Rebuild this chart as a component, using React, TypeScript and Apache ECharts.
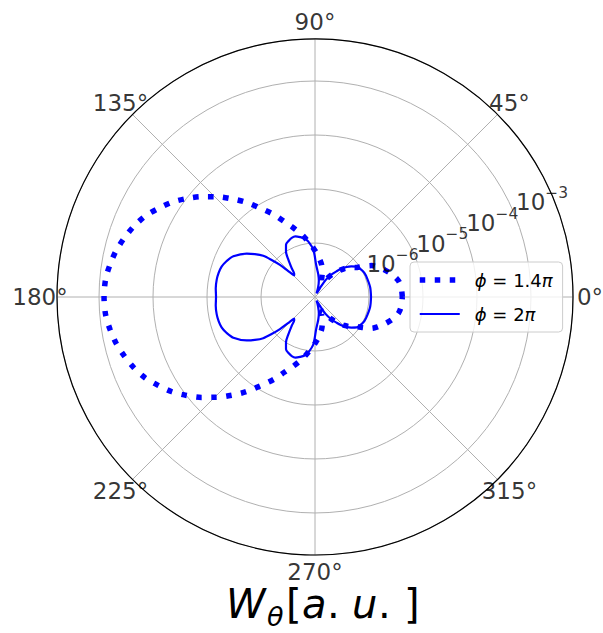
import React, { useEffect, useRef } from 'react';
import * as echarts from 'echarts';

// phi = 1.4 pi (dotted): angle in degrees, W in a.u.
const dottedAngles = [
  0, 6, 11, 16, 21, 25, 29, 33, 36, 40, 44, 48, 53, 58, 63, 68, 73, 78, 83, 88,
  92, 96, 100, 104, 108, 112, 116.5, 121.5, 126, 130, 134.5, 138.5, 142.5, 146.5, 150.5, 154.5,
  159, 163, 167, 171, 175, 180,
  185, 189, 193, 197, 201, 205.5, 209.5, 213.5, 217.5, 221.5, 225.5, 230, 234, 238.5, 243.5,
  248, 252, 256, 260, 264, 268, 272, 277, 282, 287, 292, 297, 302, 307, 312, 316, 320, 324,
  327, 331, 335, 339, 344, 349, 354, 360,
];
const dottedValues = [
  4.14e-6, 4.04e-6, 3.75e-6, 3.1e-6, 2.44e-6, 1.98e-6, 1.58e-6, 1.09e-6, 8.43e-7, 7.11e-7,
  5.74e-7, 4.45e-7, 3.3e-7, 2.45e-7, 1.98e-7, 2.07e-7, 2.9e-7, 4.0e-7, 5.06e-7, 6.53e-7,
  8.07e-7, 1.01e-6, 1.32e-6, 1.73e-6, 2.3e-6, 3.16e-6, 5.04e-6, 8.4e-6, 1.47e-5, 2.34e-5,
  4.02e-5, 6.39e-5, 9.9e-5, 1.51e-4, 2.14e-4, 3.04e-4, 4.06e-4, 5.03e-4, 6.07e-4, 6.96e-4,
  7.78e-4, 8.07e-4,
  7.78e-4, 6.96e-4, 6.07e-4, 5.03e-4, 4.06e-4, 3.04e-4, 2.14e-4, 1.51e-4, 9.9e-5, 6.39e-5,
  4.02e-5, 2.34e-5, 1.47e-5, 8.4e-6, 5.04e-6, 3.16e-6, 2.3e-6, 1.73e-6, 1.32e-6, 1.01e-6,
  8.07e-7, 6.53e-7, 5.06e-7, 4.0e-7, 2.9e-7, 2.07e-7, 1.98e-7, 2.45e-7, 3.3e-7, 4.45e-7,
  5.74e-7, 7.11e-7, 8.43e-7, 1.09e-6, 1.58e-6, 1.98e-6, 2.44e-6, 3.1e-6, 3.75e-6, 4.04e-6,
  4.14e-6,
];

// phi = 2 pi (solid)
const solidAngles = [
  0, 10, 20, 26, 31, 36, 40, 43.5, 47, 50, 54, 58, 61, 64, 67, 72, 77, 81.5, 85, 88,
  92, 97, 100, 104, 108, 111.5, 115, 119, 122.5, 125.5, 129, 132, 134, 136, 137.5, 139.5,
  141.5, 144.5, 147.5, 153.5, 158, 162, 166, 170, 175, 180,
  185, 190, 194, 198, 202, 206.5, 212.5, 215.5, 218.5, 220.5, 222.5, 224, 226, 228, 231,
  234.5, 237.5, 241, 245, 248.5, 252, 256, 260, 263, 268, 272, 275, 278.5, 283, 288, 293,
  296, 299, 302, 306, 310, 313, 316.5, 320, 324, 329, 334, 340, 350, 360,
];
const solidValues = [
  1.09e-6, 1.09e-6, 1.06e-6, 1.04e-6, 9.8e-7, 9.05e-7, 7.58e-7, 6.42e-7, 5.16e-7, 4.19e-7,
  3.23e-7, 2.34e-7, 1.53e-7, 1.24e-7, 1.19e-7, 1.53e-7, 2.07e-7, 2.61e-7, 3.16e-7, 3.96e-7,
  7.51e-7, 1.09e-6, 1.26e-6, 1.39e-6, 1.51e-6, 1.5e-6, 1.41e-6, 1.28e-6, 1.0e-6, 7.08e-7,
  4.84e-7, 3.75e-7, 3.59e-7, 5.06e-7, 7.6e-7, 1.14e-6, 1.68e-6, 2.34e-6, 3.15e-6, 4.89e-6,
  5.87e-6, 6.59e-6, 6.91e-6, 7.05e-6, 7.0e-6, 6.81e-6,
  7.0e-6, 7.05e-6, 6.91e-6, 6.59e-6, 5.87e-6, 4.89e-6, 3.15e-6, 2.34e-6, 1.68e-6, 1.14e-6,
  7.6e-7, 5.06e-7, 3.59e-7, 3.75e-7, 4.84e-7, 7.08e-7, 1.0e-6, 1.28e-6, 1.41e-6, 1.5e-6,
  1.51e-6, 1.39e-6, 1.26e-6, 1.09e-6, 7.51e-7, 3.96e-7, 3.16e-7, 2.61e-7, 2.07e-7, 1.53e-7,
  1.19e-7, 1.24e-7, 1.53e-7, 2.34e-7, 3.23e-7, 4.19e-7, 5.16e-7, 6.42e-7, 7.58e-7, 9.05e-7,
  9.8e-7, 1.04e-6, 1.06e-6, 1.09e-6, 1.09e-6,
];

const seriesNames = ['ϕ = 1.4π', 'ϕ = 2π'];
const legendRich = ['{i|ϕ}{n| = 1.4}{i|π}', '{i|ϕ}{n| = 2}{i|π}'];

const radiusMin = 1e-7;
const radiusMax = 6e-3;
const radialTickValues = [1e-6, 1e-5, 1e-4, 1e-3];
const radialTickExponents = ['−6', '−5', '−4', '−3'];
const radialLabelAngle = 22.5;

const angleTicks = [0, 45, 90, 135, 180, 225, 270, 315];
const angleTickLabels = ['0°', '45°', '90°', '135°', '180°', '225°', '270°', '315°'];
const angleLabelRadius = 1.238e-2;

// axis title pieces: [text, italic, x offset, y offset, size]
const titlePieces: [string, boolean, number, number, number][] = [
  ['W', true, 0, 0, 40],
  ['θ', true, 41, 19, 27],
  ['[', false, 60, 0, 40],
  ['a', true, 76, 0, 40],
  ['.', false, 101, 0, 40],
  ['u', true, 126, 0, 40],
  ['.', false, 152, 0, 40],
  [']', false, 178, 0, 40],
];

export default function App() {
  const ref = useRef<HTMLDivElement>(null);
  useEffect(() => {
    const chart = echarts.init(ref.current!, null, { renderer: 'svg' });
    const font = 'DejaVu Sans';
    const blue = '#0000ff';
    const dottedLine = { color: blue, width: 5.5, type: [5.5, 9.5], cap: 'butt' };
    const solidLine = { color: blue, width: 2.2, type: 'solid' };
    const hiddenSymbol = { opacity: 0, color: 'rgba(0,0,0,0)', borderWidth: 0 };
    chart.setOption({
      animation: false,
      backgroundColor: '#ffffff',
      textStyle: { fontFamily: font },
      polar: { center: [315, 297], radius: 258 },
      angleAxis: {
        type: 'value',
        min: 0,
        max: 360,
        interval: 45,
        startAngle: 0,
        clockwise: false,
        axisLine: { show: true, lineStyle: { color: '#000000', width: 1.2 } },
        axisTick: { show: false },
        axisLabel: { show: false },
        splitLine: { show: true, lineStyle: { color: '#b0b0b0', width: 1 } },
      },
      radiusAxis: {
        type: 'log',
        logBase: 10,
        min: radiusMin,
        max: radiusMax,
        axisLine: { show: false },
        axisTick: { show: false },
        axisLabel: { show: false },
        splitLine: { show: true, lineStyle: { color: '#b0b0b0', width: 1 } },
      },
      legend: {
        data: [
          { name: seriesNames[0], itemStyle: hiddenSymbol, lineStyle: dottedLine },
          { name: seriesNames[1], itemStyle: hiddenSymbol, lineStyle: solidLine },
        ],
        orient: 'vertical',
        left: 410,
        top: 262,
        padding: [9, 10, 9, 7],
        itemGap: 16,
        itemWidth: 40,
        itemHeight: 14,
        backgroundColor: 'rgba(255,255,255,0.8)',
        borderColor: '#cccccc',
        borderWidth: 1,
        borderRadius: 4,
        selectedMode: false,
        formatter: (name: string) => legendRich[seriesNames.indexOf(name)],
        textStyle: {
          fontSize: 18,
          fontFamily: font,
          color: '#000',
          padding: [0, 0, 0, 10],
          rich: {
            i: { fontStyle: 'italic', fontSize: 18, fontFamily: font, color: '#000' },
            n: { fontSize: 18, fontFamily: font, color: '#000' },
          },
        },
      },
      graphic: [
        {
          type: 'group',
          left: 226,
          top: 584,
          children: titlePieces.map(([t, it, x, y, s]) => ({
            type: 'text',
            x,
            y,
            style: {
              text: t,
              fontSize: s,
              fontStyle: it ? 'italic' : 'normal',
              fontFamily: font,
              fill: '#000',
            },
          })),
        },
      ],
      series: [
        {
          name: seriesNames[1],
          type: 'line',
          coordinateSystem: 'polar',
          data: solidAngles.map((a, i) => [solidValues[i], a]),
          symbol: 'none',
          smooth: 0.3,
          lineStyle: solidLine,
          itemStyle: { color: blue },
          z: 3,
        },
        {
          name: seriesNames[0],
          type: 'line',
          coordinateSystem: 'polar',
          data: dottedAngles.map((a, i) => [dottedValues[i], a]),
          symbol: 'none',
          smooth: 0.3,
          lineStyle: dottedLine,
          itemStyle: { color: blue },
          z: 4,
        },
        {
          type: 'scatter',
          coordinateSystem: 'polar',
          clip: false,
          silent: true,
          symbolSize: 1,
          itemStyle: { color: 'rgba(0,0,0,0)' },
          data: radialTickValues.map((v, i) => ({
            value: [v, radialLabelAngle],
            label: { formatter: '{b|10}{s|' + radialTickExponents[i] + '}' },
          })),
          label: {
            show: true,
            position: [2, 0],
            align: 'left',
            verticalAlign: 'bottom',
            rich: {
              b: { fontSize: 23, lineHeight: 29, verticalAlign: 'bottom', fontFamily: font, color: '#000' },
              s: { fontSize: 15.5, lineHeight: 15, verticalAlign: 'top', fontFamily: font, color: '#000' },
            },
          },
          z: 6,
        },
        {
          type: 'scatter',
          coordinateSystem: 'polar',
          clip: false,
          silent: true,
          symbolSize: 1,
          itemStyle: { color: 'rgba(0,0,0,0)' },
          data: angleTicks.map((a, i) => ({
            value: [angleLabelRadius, a],
            label: { formatter: angleTickLabels[i] },
          })),
          label: {
            show: true,
            position: 'inside',
            fontSize: 23,
            fontFamily: font,
            color: '#000',
          },
          z: 6,
        },
      ],
    });
    return () => chart.dispose();
  }, []);
  return (
    <div
      ref={ref}
      style={{ position: 'fixed', left: 0, top: 0, width: 603, height: 633 }}
    />
  );
}
